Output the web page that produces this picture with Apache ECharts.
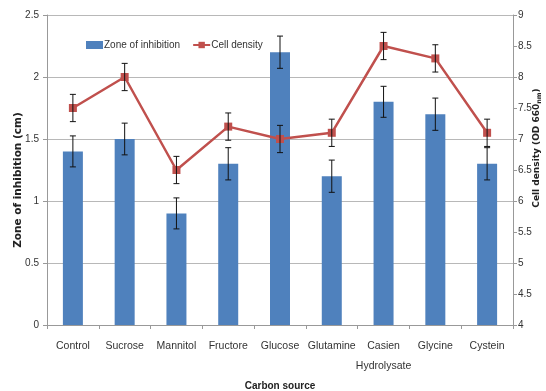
<!DOCTYPE html>
<html>
<head>
<meta charset="utf-8">
<script src="https://cdn.jsdelivr.net/npm/echarts@6/dist/echarts.min.js"></script>
<style>
html,body{margin:0;padding:0;background:#fff;}
#chart{width:546px;height:391px;}
</style>
</head>
<body>
<div id="chart"></div>
<script>
// Carbon sources tested
const categories = ['Control', 'Sucrose', 'Mannitol', 'Fructore', 'Glucose', 'Glutamine', 'Casien\nHydrolysate', 'Glycine', 'Cystein'];
// Zone of inhibition (cm) and its error
const zoneValues = [1.4, 1.5, 0.9, 1.3, 2.2, 1.2, 1.8, 1.7, 1.3];
const zoneErrors = [0.125, 0.128, 0.125, 0.13, 0.13, 0.13, 0.125, 0.13, 0.13];
// Cell density (OD 660nm) and its error
const densityValues = [7.5, 8.0, 6.5, 7.2, 7.0, 7.1, 8.5, 8.3, 7.1];
const densityErrors = [0.22, 0.22, 0.22, 0.22, 0.22, 0.22, 0.22, 0.22, 0.22];

const labelFont = '"Liberation Sans", Arial, sans-serif';
const titleFont = '"DejaVu Sans", Verdana, sans-serif';

function errorRenderer(values, errors) {
  return function (params, api) {
    const i = api.value(0);
    const v = values[i], e = errors[i];
    const top = api.coord([i, v + e]);
    const bot = api.coord([i, v - e]);
    const cap = 3;
    const style = { stroke: '#111', lineWidth: 1 };
    return {
      type: 'group',
      children: [
        { type: 'line', shape: { x1: top[0], y1: top[1], x2: bot[0], y2: bot[1] }, style: style },
        { type: 'line', shape: { x1: top[0] - cap, y1: top[1], x2: top[0] + cap, y2: top[1] }, style: style },
        { type: 'line', shape: { x1: bot[0] - cap, y1: bot[1], x2: bot[0] + cap, y2: bot[1] }, style: style }
      ]
    };
  };
}

const chart = echarts.init(document.getElementById('chart'), null, { renderer: 'canvas' });
chart.setOption({
  animation: false,
  backgroundColor: '#fff',
  grid: { left: 47, right: 33, top: 15, bottom: 66, containLabel: false, outerBoundsMode: 'none' },
  legend: {
    left: 81, top: 35,
    itemGap: 12,
    itemWidth: 17, itemHeight: 8,
    textStyle: { fontFamily: labelFont, fontSize: 10, color: '#333', padding: [0, 0, 0, -4] },
    data: [
      { name: 'Zone of inhibition', icon: 'rect' },
      { name: 'Cell density' }
    ]
  },
  graphic: [
    {
      type: 'text',
      x: 18, y: 180,
      rotation: Math.PI / 2,
      style: {
        text: 'Zone of inhibition (cm)',
        fontFamily: titleFont, fontWeight: 'bold', fontSize: 10.5, fill: '#222',
        align: 'center', verticalAlign: 'middle'
      }
    },
    {
      type: 'text',
      x: 537, y: 148,
      rotation: Math.PI / 2,
      style: {
        text: '{n|Cell density (OD 660}{s|nm}{n|)}',
        align: 'center', verticalAlign: 'middle',
        rich: {
          n: { fontFamily: titleFont, fontWeight: 'bold', fontSize: 9, fill: '#222', lineHeight: 12 },
          s: { fontFamily: titleFont, fontWeight: 'bold', fontSize: 6.5, fill: '#222', lineHeight: 12, verticalAlign: 'bottom', padding: [5, 0, 0, 0] }
        }
      }
    }
  ],
  xAxis: {
    type: 'category',
    data: categories,
    name: 'Carbon source',
    nameLocation: 'middle',
    nameGap: 56,
    nameMoveOverlap: false,
    nameTextStyle: { fontFamily: labelFont, fontWeight: 'bold', fontSize: 10, color: '#222', verticalAlign: 'top' },
    axisLine: { lineStyle: { color: '#999' } },
    axisTick: { show: true, alignWithLabel: false, length: 4, lineStyle: { color: '#999' } },
    axisLabel: { interval: 0, fontFamily: labelFont, fontSize: 10.5, color: '#333', margin: 11, lineHeight: 20 }
  },
  yAxis: [
    {
      type: 'value', min: 0, max: 2.5, interval: 0.5,
      axisLine: { show: true, lineStyle: { color: '#999' } },
      axisTick: { show: true, length: 4, lineStyle: { color: '#999' } },
      axisLabel: { fontFamily: labelFont, fontSize: 10, color: '#333', margin: 8 },
      splitLine: { show: true, lineStyle: { color: '#b8b8b8', width: 1 } }
    },
    {
      type: 'value', min: 4, max: 9, interval: 0.5,
      position: 'right',
      axisLine: { show: true, lineStyle: { color: '#999' } },
      axisTick: { show: true, length: 4, lineStyle: { color: '#999' } },
      axisLabel: { fontFamily: labelFont, fontSize: 10, color: '#333', margin: 5 },
      splitLine: { show: false }
    }
  ],
  series: [
    {
      name: 'Zone of inhibition',
      type: 'bar',
      yAxisIndex: 0,
      data: zoneValues,
      barWidth: 20,
      itemStyle: { color: '#4F81BD' },
      z: 2
    },
    {
      type: 'custom',
      yAxisIndex: 0,
      data: zoneValues.map((v, i) => [i, v]),
      renderItem: errorRenderer(zoneValues, zoneErrors),
      z: 3,
      silent: true
    },
    {
      name: 'Cell density',
      type: 'line',
      yAxisIndex: 1,
      data: densityValues,
      symbol: 'rect',
      symbolSize: 8,
      itemStyle: { color: '#C0504D' },
      lineStyle: { color: '#C0504D', width: 2.5 },
      z: 4
    },
    {
      type: 'custom',
      yAxisIndex: 1,
      data: densityValues.map((v, i) => [i, v]),
      renderItem: errorRenderer(densityValues, densityErrors),
      z: 5,
      silent: true
    }
  ]
});
</script>
</body>
</html>
